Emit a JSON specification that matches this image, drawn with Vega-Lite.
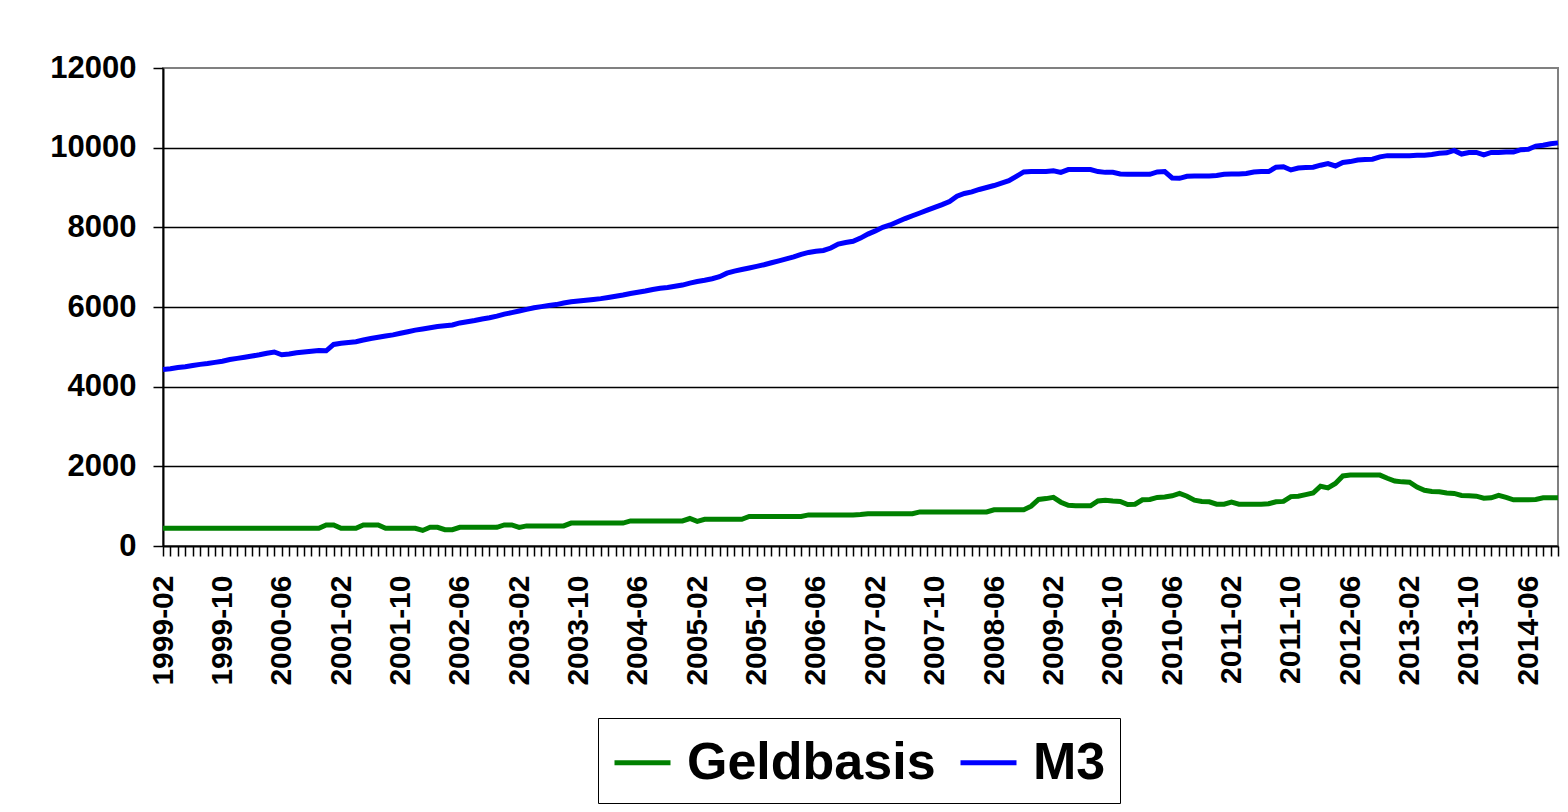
{
 "$schema": "https://vega.github.io/schema/vega-lite/v6.json",
 "width": 1395,
 "height": 478,
 "autosize": {"type": "none"},
 "padding": {"left": 163, "top": 68, "right": 10, "bottom": 266},
 "background": "white",
 "config": {"view": {"stroke": "#808080", "strokeWidth": 2}, "font": "Liberation Sans"},
 "data": {"values": [
{"d":"1999-02","Geldbasis":445,"M3":4430},{"d":"1999-03","Geldbasis":445,"M3":4450},{"d":"1999-04","Geldbasis":445,"M3":4480},{"d":"1999-05","Geldbasis":445,"M3":4500},{"d":"1999-06","Geldbasis":445,"M3":4530},{"d":"1999-07","Geldbasis":445,"M3":4560},{"d":"1999-08","Geldbasis":445,"M3":4580},{"d":"1999-09","Geldbasis":445,"M3":4610},{"d":"1999-10","Geldbasis":445,"M3":4640},{"d":"1999-11","Geldbasis":445,"M3":4680},{"d":"1999-12","Geldbasis":445,"M3":4710},
{"d":"2000-01","Geldbasis":445,"M3":4740},{"d":"2000-02","Geldbasis":445,"M3":4770},{"d":"2000-03","Geldbasis":445,"M3":4800},{"d":"2000-04","Geldbasis":445,"M3":4840},{"d":"2000-05","Geldbasis":445,"M3":4870},{"d":"2000-06","Geldbasis":445,"M3":4800},{"d":"2000-07","Geldbasis":445,"M3":4820},{"d":"2000-08","Geldbasis":445,"M3":4850},{"d":"2000-09","Geldbasis":445,"M3":4870},{"d":"2000-10","Geldbasis":445,"M3":4890},{"d":"2000-11","Geldbasis":445,"M3":4910},{"d":"2000-12","Geldbasis":530,"M3":4900},
{"d":"2001-01","Geldbasis":530,"M3":5060},{"d":"2001-02","Geldbasis":445,"M3":5090},{"d":"2001-03","Geldbasis":445,"M3":5110},{"d":"2001-04","Geldbasis":445,"M3":5130},{"d":"2001-05","Geldbasis":530,"M3":5170},{"d":"2001-06","Geldbasis":530,"M3":5210},{"d":"2001-07","Geldbasis":530,"M3":5240},{"d":"2001-08","Geldbasis":445,"M3":5270},{"d":"2001-09","Geldbasis":445,"M3":5300},{"d":"2001-10","Geldbasis":445,"M3":5340},{"d":"2001-11","Geldbasis":445,"M3":5380},{"d":"2001-12","Geldbasis":445,"M3":5420},
{"d":"2002-01","Geldbasis":390,"M3":5450},{"d":"2002-02","Geldbasis":470,"M3":5480},{"d":"2002-03","Geldbasis":470,"M3":5510},{"d":"2002-04","Geldbasis":410,"M3":5530},{"d":"2002-05","Geldbasis":410,"M3":5550},{"d":"2002-06","Geldbasis":470,"M3":5600},{"d":"2002-07","Geldbasis":470,"M3":5630},{"d":"2002-08","Geldbasis":470,"M3":5660},{"d":"2002-09","Geldbasis":470,"M3":5700},{"d":"2002-10","Geldbasis":470,"M3":5730},{"d":"2002-11","Geldbasis":470,"M3":5770},{"d":"2002-12","Geldbasis":530,"M3":5820},
{"d":"2003-01","Geldbasis":530,"M3":5860},{"d":"2003-02","Geldbasis":465,"M3":5900},{"d":"2003-03","Geldbasis":505,"M3":5940},{"d":"2003-04","Geldbasis":505,"M3":5980},{"d":"2003-05","Geldbasis":505,"M3":6010},{"d":"2003-06","Geldbasis":505,"M3":6040},{"d":"2003-07","Geldbasis":505,"M3":6060},{"d":"2003-08","Geldbasis":505,"M3":6100},{"d":"2003-09","Geldbasis":575,"M3":6130},{"d":"2003-10","Geldbasis":575,"M3":6150},{"d":"2003-11","Geldbasis":575,"M3":6170},{"d":"2003-12","Geldbasis":575,"M3":6190},
{"d":"2004-01","Geldbasis":575,"M3":6210},{"d":"2004-02","Geldbasis":575,"M3":6240},{"d":"2004-03","Geldbasis":575,"M3":6270},{"d":"2004-04","Geldbasis":575,"M3":6300},{"d":"2004-05","Geldbasis":630,"M3":6340},{"d":"2004-06","Geldbasis":630,"M3":6370},{"d":"2004-07","Geldbasis":630,"M3":6400},{"d":"2004-08","Geldbasis":630,"M3":6440},{"d":"2004-09","Geldbasis":630,"M3":6470},{"d":"2004-10","Geldbasis":630,"M3":6490},{"d":"2004-11","Geldbasis":630,"M3":6520},{"d":"2004-12","Geldbasis":630,"M3":6550},
{"d":"2005-01","Geldbasis":690,"M3":6600},{"d":"2005-02","Geldbasis":620,"M3":6640},{"d":"2005-03","Geldbasis":670,"M3":6670},{"d":"2005-04","Geldbasis":670,"M3":6710},{"d":"2005-05","Geldbasis":670,"M3":6760},{"d":"2005-06","Geldbasis":670,"M3":6850},{"d":"2005-07","Geldbasis":670,"M3":6900},{"d":"2005-08","Geldbasis":670,"M3":6940},{"d":"2005-09","Geldbasis":740,"M3":6980},{"d":"2005-10","Geldbasis":740,"M3":7020},{"d":"2005-11","Geldbasis":740,"M3":7060},{"d":"2005-12","Geldbasis":740,"M3":7110},
{"d":"2006-01","Geldbasis":740,"M3":7160},{"d":"2006-02","Geldbasis":740,"M3":7210},{"d":"2006-03","Geldbasis":740,"M3":7260},{"d":"2006-04","Geldbasis":740,"M3":7320},{"d":"2006-05","Geldbasis":780,"M3":7370},{"d":"2006-06","Geldbasis":780,"M3":7400},{"d":"2006-07","Geldbasis":780,"M3":7420},{"d":"2006-08","Geldbasis":780,"M3":7480},{"d":"2006-09","Geldbasis":780,"M3":7580},{"d":"2006-10","Geldbasis":780,"M3":7620},{"d":"2006-11","Geldbasis":780,"M3":7650},{"d":"2006-12","Geldbasis":790,"M3":7730},
{"d":"2007-01","Geldbasis":810,"M3":7830},{"d":"2007-02","Geldbasis":810,"M3":7910},{"d":"2007-03","Geldbasis":810,"M3":8000},{"d":"2007-04","Geldbasis":810,"M3":8060},{"d":"2007-05","Geldbasis":810,"M3":8140},{"d":"2007-06","Geldbasis":810,"M3":8220},{"d":"2007-07","Geldbasis":810,"M3":8290},{"d":"2007-08","Geldbasis":855,"M3":8360},{"d":"2007-09","Geldbasis":855,"M3":8430},{"d":"2007-10","Geldbasis":855,"M3":8500},{"d":"2007-11","Geldbasis":855,"M3":8570},{"d":"2007-12","Geldbasis":855,"M3":8650},
{"d":"2008-01","Geldbasis":855,"M3":8780},{"d":"2008-02","Geldbasis":855,"M3":8850},{"d":"2008-03","Geldbasis":855,"M3":8890},{"d":"2008-04","Geldbasis":855,"M3":8950},{"d":"2008-05","Geldbasis":855,"M3":9000},{"d":"2008-06","Geldbasis":910,"M3":9050},{"d":"2008-07","Geldbasis":910,"M3":9110},{"d":"2008-08","Geldbasis":910,"M3":9170},{"d":"2008-09","Geldbasis":910,"M3":9280},{"d":"2008-10","Geldbasis":910,"M3":9390},{"d":"2008-11","Geldbasis":1000,"M3":9400},{"d":"2008-12","Geldbasis":1170,"M3":9400},
{"d":"2009-01","Geldbasis":1190,"M3":9400},{"d":"2009-02","Geldbasis":1220,"M3":9420},{"d":"2009-03","Geldbasis":1100,"M3":9380},{"d":"2009-04","Geldbasis":1020,"M3":9450},{"d":"2009-05","Geldbasis":1010,"M3":9450},{"d":"2009-06","Geldbasis":1010,"M3":9450},{"d":"2009-07","Geldbasis":1010,"M3":9450},{"d":"2009-08","Geldbasis":1130,"M3":9400},{"d":"2009-09","Geldbasis":1150,"M3":9380},{"d":"2009-10","Geldbasis":1130,"M3":9380},{"d":"2009-11","Geldbasis":1120,"M3":9340},{"d":"2009-12","Geldbasis":1040,"M3":9330},
{"d":"2010-01","Geldbasis":1050,"M3":9330},{"d":"2010-02","Geldbasis":1160,"M3":9330},{"d":"2010-03","Geldbasis":1170,"M3":9330},{"d":"2010-04","Geldbasis":1220,"M3":9390},{"d":"2010-05","Geldbasis":1230,"M3":9400},{"d":"2010-06","Geldbasis":1260,"M3":9240},{"d":"2010-07","Geldbasis":1320,"M3":9230},{"d":"2010-08","Geldbasis":1250,"M3":9280},{"d":"2010-09","Geldbasis":1150,"M3":9290},{"d":"2010-10","Geldbasis":1120,"M3":9290},{"d":"2010-11","Geldbasis":1110,"M3":9290},{"d":"2010-12","Geldbasis":1050,"M3":9300},
{"d":"2011-01","Geldbasis":1050,"M3":9330},{"d":"2011-02","Geldbasis":1100,"M3":9340},{"d":"2011-03","Geldbasis":1050,"M3":9340},{"d":"2011-04","Geldbasis":1050,"M3":9350},{"d":"2011-05","Geldbasis":1050,"M3":9390},{"d":"2011-06","Geldbasis":1050,"M3":9400},{"d":"2011-07","Geldbasis":1060,"M3":9400},{"d":"2011-08","Geldbasis":1110,"M3":9510},{"d":"2011-09","Geldbasis":1120,"M3":9520},{"d":"2011-10","Geldbasis":1240,"M3":9440},{"d":"2011-11","Geldbasis":1250,"M3":9490},{"d":"2011-12","Geldbasis":1290,"M3":9500},
{"d":"2012-01","Geldbasis":1330,"M3":9510},{"d":"2012-02","Geldbasis":1500,"M3":9560},{"d":"2012-03","Geldbasis":1460,"M3":9600},{"d":"2012-04","Geldbasis":1570,"M3":9540},{"d":"2012-05","Geldbasis":1760,"M3":9630},{"d":"2012-06","Geldbasis":1780,"M3":9650},{"d":"2012-07","Geldbasis":1780,"M3":9690},{"d":"2012-08","Geldbasis":1780,"M3":9700},{"d":"2012-09","Geldbasis":1780,"M3":9710},{"d":"2012-10","Geldbasis":1780,"M3":9770},{"d":"2012-11","Geldbasis":1700,"M3":9800},{"d":"2012-12","Geldbasis":1630,"M3":9800},
{"d":"2013-01","Geldbasis":1610,"M3":9800},{"d":"2013-02","Geldbasis":1600,"M3":9800},{"d":"2013-03","Geldbasis":1480,"M3":9810},{"d":"2013-04","Geldbasis":1400,"M3":9810},{"d":"2013-05","Geldbasis":1370,"M3":9830},{"d":"2013-06","Geldbasis":1360,"M3":9860},{"d":"2013-07","Geldbasis":1330,"M3":9870},{"d":"2013-08","Geldbasis":1320,"M3":9930},{"d":"2013-09","Geldbasis":1270,"M3":9840},{"d":"2013-10","Geldbasis":1260,"M3":9880},{"d":"2013-11","Geldbasis":1250,"M3":9880},{"d":"2013-12","Geldbasis":1200,"M3":9820},
{"d":"2014-01","Geldbasis":1210,"M3":9880},{"d":"2014-02","Geldbasis":1270,"M3":9880},{"d":"2014-03","Geldbasis":1220,"M3":9890},{"d":"2014-04","Geldbasis":1160,"M3":9890},{"d":"2014-05","Geldbasis":1160,"M3":9950},{"d":"2014-06","Geldbasis":1160,"M3":9960},{"d":"2014-07","Geldbasis":1170,"M3":10040},{"d":"2014-08","Geldbasis":1210,"M3":10060},{"d":"2014-09","Geldbasis":1210,"M3":10100},{"d":"2014-10","Geldbasis":1210,"M3":10120}
 ]},
 "transform": [{"fold": ["Geldbasis", "M3"], "as": ["series", "value"]}],
 "mark": {"type": "line", "strokeWidth": 5},
 "encoding": {
  "x": {
   "field": "d", "type": "ordinal",
   "scale": {"type": "point", "padding": 0},
   "axis": {
    "title": null, "labelAngle": -90, "labelAlign": "right", "labelBaseline": "middle",
    "labelExpr": "(parseInt(substring(datum.value,0,4))*12 + parseInt(substring(datum.value,5,7)) - 23990) % 8 == 0 ? datum.value : ''",
    "labelOverlap": false, "labelFont": "Liberation Sans", "labelFontWeight": "bold", "labelFontSize": 30,
    "labelColor": "black", "labelPadding": 19, "tickColor": "black", "tickSize": 10, "tickWidth": 1.5,
    "domainColor": "black", "domainWidth": 2, "grid": false
   }
  },
  "y": {
   "field": "value", "type": "quantitative",
   "scale": {"domain": [0, 12000], "nice": false},
   "axis": {
    "title": null, "values": [0, 2000, 4000, 6000, 8000, 10000, 12000], "format": "d",
    "labelFont": "Liberation Sans", "labelFontWeight": "bold", "labelFontSize": 31, "labelColor": "black",
    "labelPadding": 17, "tickColor": "black", "tickSize": 10, "tickWidth": 1.5,
    "domainColor": "black", "domainWidth": 2,
    "grid": true, "gridColor": "black", "gridWidth": 1.5,
    "gridOpacity": {"condition": {"test": "datum.value == 0 || datum.value == 12000", "value": 0}, "value": 1}
   }
  },
  "color": {
   "field": "series", "type": "nominal",
   "scale": {"domain": ["Geldbasis", "M3"], "range": ["#008000", "#0000FF"]},
   "legend": {
    "title": null, "orient": "none", "direction": "horizontal", "legendX": 435, "legendY": 650,
    "symbolType": "stroke", "symbolSize": 3136, "symbolStrokeWidth": 5,
    "labelFont": "Liberation Sans", "labelFontWeight": "bold", "labelFontSize": 52, "labelColor": "black",
    "labelLimit": 600, "labelOffset": 14, "columnPadding": 14, "padding": 14,
    "strokeColor": "black", "fillColor": "white"
   }
  }
 }
}
